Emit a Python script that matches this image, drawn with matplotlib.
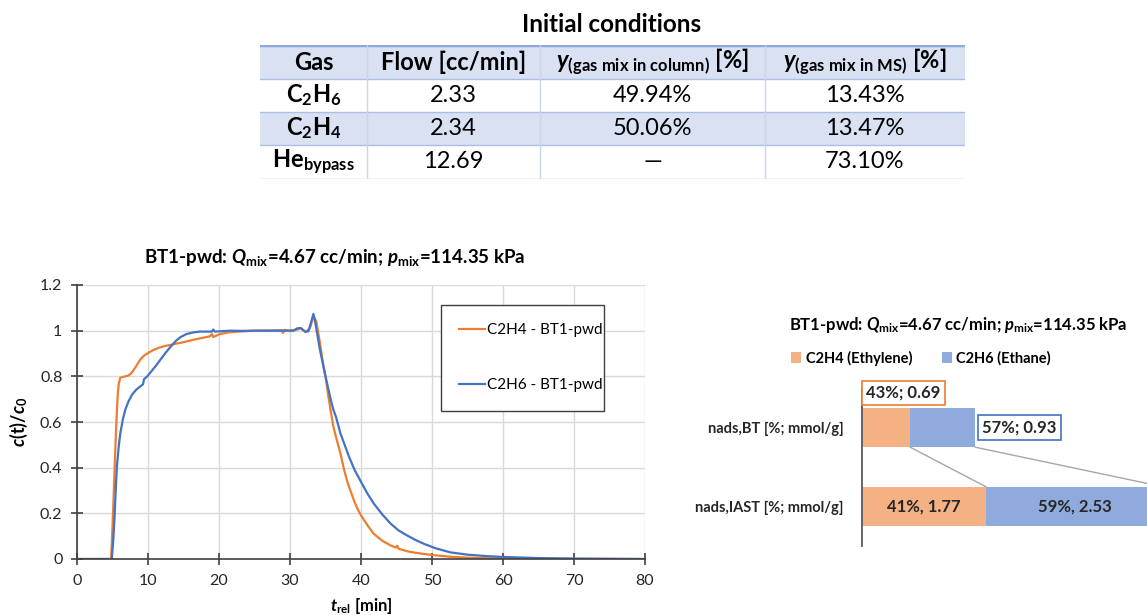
import matplotlib
matplotlib.use('Agg')
import matplotlib.pyplot as plt
import numpy as np

plt.rcParams['font.family'] = ['Lato', 'DejaVu Sans']
plt.rcParams['mathtext.fontset'] = 'custom'
plt.rcParams['mathtext.rm'] = 'Lato'
plt.rcParams['mathtext.it'] = 'Lato:italic'
plt.rcParams['mathtext.bf'] = 'Lato:bold'
plt.rcParams['mathtext.bfit'] = 'Lato:italic:bold'

# ---- table data ----
table_title = 'Initial conditions'
table_header = ['Gas', 'Flow [cc/min]',
                r'$\mathbfit{y}_{\mathbf{(gas\ mix\ in\ column)}}$ [%]',
                r'$\mathbfit{y}_{\mathbf{(gas\ mix\ in\ MS)}}$ [%]']
gases = [r'$\mathbf{C_2H_6}$', r'$\mathbf{C_2H_4}$', r'$\mathbf{He_{bypass}}$']
flows = ['2.33', '2.34', '12.69']
y_column = ['49.94%', '50.06%', '\u2014']
y_ms = ['13.43%', '13.47%', '73.10%']

# ---- breakthrough curves ----
t_c2h4 = [0, 4.8, 4.95, 5.14, 5.3, 5.48, 5.62, 5.76, 5.9, 6.1, 6.8, 7.2, 7.5, 7.85, 8.2,
          8.6, 8.95, 9.5, 10.1, 10.8, 11.6, 12.4, 13.2, 14.9, 16.8, 18.7, 19.0, 19.2,
          20.1, 21.5, 23.3, 25.0, 27.0, 28.8, 29.0, 29.2, 30.0, 31.0, 31.5, 32.2, 32.8,
          33.3, 33.7, 34.2, 34.7, 35.1, 35.4, 35.75, 36.1, 36.6, 37.1, 37.55, 38.0, 38.5,
          39.0, 39.5, 40.0, 40.9, 41.8, 43.0, 44.2, 44.9, 45.1, 45.3, 46.5, 47.7, 48.9,
          50.5, 52.6, 55.0, 58.0, 62.0, 70.0, 80.0]
c2h4 = [0, 0, 0.1, 0.257, 0.4, 0.55, 0.65, 0.73, 0.77, 0.794, 0.80, 0.803, 0.809, 0.822,
        0.838, 0.858, 0.875, 0.892, 0.904, 0.916, 0.926, 0.933, 0.938, 0.949, 0.963, 0.975,
        0.985, 0.972, 0.985, 0.993, 0.997, 1.0, 1.0, 1.002, 0.99, 1.003, 1.0, 1.005, 1.01,
        0.995, 1.01, 1.065, 1.04, 0.95, 0.846, 0.78, 0.713, 0.645, 0.581, 0.52, 0.463,
        0.40, 0.346, 0.30, 0.257, 0.22, 0.191, 0.148, 0.110, 0.08, 0.059, 0.05, 0.058,
        0.045, 0.034, 0.027, 0.022, 0.016, 0.010, 0.006, 0.003, 0.001, 0.0, 0.0]

t_c2h6 = [0, 4.9, 5.1, 5.29, 5.45, 5.62, 5.85, 6.1, 6.45, 6.8, 7.25, 7.76, 8.3, 8.95, 9.3,
          9.43, 9.9, 10.5, 11.1, 11.8, 12.5, 13.2, 13.95, 14.6, 15.4, 16.3, 17.3, 19.0,
          19.2, 19.4, 21.6, 23.0, 25.7, 28.0, 29.9, 30.5, 31.0, 31.5, 32.2, 32.6, 33.0,
          33.3, 33.6, 34.2, 34.7, 35.2, 35.8, 36.1, 36.5, 37.1, 37.7, 38.3, 39.1, 40.0,
          40.9, 41.8, 43.0, 44.2, 45.3, 46.5, 47.7, 48.9, 50.5, 52.6, 55.0, 57.5, 60.0,
          65.0, 70.0, 80.0]
c2h6 = [0, 0, 0.08, 0.184, 0.30, 0.404, 0.485, 0.551, 0.61, 0.654, 0.69, 0.72, 0.74, 0.757,
        0.765, 0.787, 0.80, 0.823, 0.846, 0.875, 0.904, 0.93, 0.956, 0.972, 0.985, 0.992,
        0.996, 0.996, 1.005, 0.996, 1.0, 0.999, 1.0, 1.0, 1.0, 1.0, 1.01, 1.012, 0.994,
        0.998, 1.04, 1.073, 1.03, 0.919, 0.845, 0.772, 0.69, 0.655, 0.62, 0.55, 0.50,
        0.449, 0.39, 0.338, 0.287, 0.243, 0.195, 0.154, 0.125, 0.103, 0.083, 0.066, 0.047,
        0.029, 0.019, 0.013, 0.009, 0.004, 0.002, 0.0]

x_ticks = [0, 10, 20, 30, 40, 50, 60, 70, 80]
y_ticks = [0, 0.2, 0.4, 0.6, 0.8, 1.0, 1.2]
y_ticklabels = ['0', '0.2', '0.4', '0.6', '0.8', '1', '1.2']

# ---- adsorbed amounts ----
bar_cats = ['nads,IAST [%; mmol/g]', 'nads,BT [%; mmol/g]']
ads_c2h4 = [1.77, 0.69]
ads_c2h6 = [2.53, 0.93]
lab_c2h4 = ['41%, 1.77', '43%; 0.69']
lab_c2h6 = ['59%, 2.53', '57%; 0.93']

orange = '#ED7D31'
blue = '#4472C4'
bar_orange = '#F4B183'
bar_blue = '#8FAADC'
txt = '#262626'

W, H = 1147, 615
fig = plt.figure(figsize=(W / 100, H / 100), dpi=100)

def box(l, t, r, b):
    return [l / W, 1 - b / H, (r - l) / W, (b - t) / H]

# ================= table =================
tax = fig.add_axes(box(260, 45, 965, 179))
col_edges = [0, 107, 280, 505, 705]
row_edges = [0, 34, 67, 100, 134]
tax.set_xlim(0, 705)
tax.set_ylim(134, 0)
tax.axis('off')
for i in (0, 2):
    tax.axhspan(row_edges[i], row_edges[i + 1], color='#D9E1F2', lw=0)
for y in row_edges[1:]:
    tax.axhline(y, color='#A9BFE3', lw=1)
tax.axhline(0, color='#8EA9DB', lw=2.5)
tax.vlines(col_edges[1:-1], 0, 134, color='#C9D6EE', lw=1)
cx = [(col_edges[i] + col_edges[i + 1]) / 2 for i in range(4)]
cy = [(row_edges[i] + row_edges[i + 1]) / 2 for i in range(4)]
for j, h in enumerate(table_header):
    tax.text(cx[j], cy[0], h, ha='center', va='center', fontsize=17, fontweight='bold', color='black')
rows = list(zip(gases, flows, y_column, y_ms))
for i, row in enumerate(rows):
    for j, v in enumerate(row):
        tax.text(cx[j], cy[i + 1], v, ha='center', va='center', fontsize=17,
                 fontweight='bold' if j == 0 else 'normal', color='black')
fig.text(612 / W, 1 - 25 / H, table_title, ha='center', va='center', fontsize=17.5,
         fontweight='bold', color='black')

# ================= breakthrough curves =================
ax = fig.add_axes(box(77, 285, 645, 559))
ax.plot(t_c2h4, c2h4, color=orange, lw=1.6, label='C2H4 - BT1-pwd')
ax.plot(t_c2h6, c2h6, color=blue, lw=1.6, label='C2H6 - BT1-pwd')
ax.set_xlim(0, 80)
ax.set_ylim(0, 1.2)
ax.set_xticks(x_ticks)
ax.set_yticks(y_ticks)
ax.set_yticklabels(y_ticklabels)
ax.grid(True, color='#D9D9D9', lw=1)
ax.set_axisbelow(True)
for s in ('top', 'right'):
    ax.spines[s].set_visible(False)
for s in ('left', 'bottom'):
    ax.spines[s].set_color('#404040')
    ax.spines[s].set_linewidth(1.2)
ax.tick_params(direction='inout', length=9, width=1.2, color='#404040',
               labelsize=11.5, labelcolor=txt, pad=6)
ax.set_xlabel(r'$\mathbfit{t}_{\mathbf{rel}}$ [min]', fontsize=12, fontweight='bold', labelpad=6)
ax.set_ylabel(r'$\mathbfit{c}$(t)/$\mathbfit{c}_{\mathbf{0}}$', fontsize=13, fontweight='bold', labelpad=7)
fig.text(335 / W, 1 - 257 / H,
         r'BT1-pwd: $\mathbfit{Q}_{\mathbf{mix}}$=4.67 cc/min; $\mathbfit{p}_{\mathbf{mix}}$=114.35 kPa',
         ha='center', va='center', fontsize=13.5, fontweight='bold', color='black')
ax.legend(loc='upper left', bbox_to_anchor=(0.627, 0.558, 0.315, 0.398), mode='expand',
          fontsize=11, frameon=True, fancybox=False, edgecolor='#404040', framealpha=1,
          borderpad=1.2, labelspacing=2.7, handlelength=1.7, handletextpad=0.15)

# ================= adsorbed amounts bars =================
bax = fig.add_axes(box(862, 388, 1212, 546))
ypos = np.arange(len(bar_cats))
b1 = bax.barh(ypos, ads_c2h4, height=0.5, color=bar_orange, label='C2H4 (Ethylene)')
b2 = bax.barh(ypos, ads_c2h6, left=ads_c2h4, height=0.5, color=bar_blue, label='C2H6 (Ethane)')
bax.set_xlim(0, 5)
bax.set_ylim(-0.5, 1.5)
bax.set_yticks(ypos)
bax.set_yticklabels(bar_cats, fontsize=10.5, fontweight='bold', color=txt)
bax.tick_params(axis='y', length=0, pad=13)
bax.set_xticks([])
for s in ('top', 'right', 'bottom'):
    bax.spines[s].set_visible(False)
bax.spines['left'].set_color('#595959')
bax.spines['left'].set_linewidth(1.3)
tot = [a + b for a, b in zip(ads_c2h4, ads_c2h6)]
# series lines between the stacked bars
bax.plot([ads_c2h4[1], ads_c2h4[0]], [1 - 0.25, 0 + 0.25], color='#A6A6A6', lw=1)
bax.plot([tot[1], tot[0]], [1 - 0.25, 0 + 0.25], color='#A6A6A6', lw=1)
# labels
bax.text(ads_c2h4[0] / 2, 0, lab_c2h4[0], ha='center', va='center', fontsize=12,
         fontweight='bold', color=txt)
bax.text(ads_c2h4[0] + ads_c2h6[0] / 2, 0, lab_c2h6[0], ha='center', va='center',
         fontsize=12, fontweight='bold', color=txt)
bax.annotate(lab_c2h4[1], xy=(0, 1.25), xytext=(3, 5), textcoords='offset points',
             ha='left', va='bottom', fontsize=12, fontweight='bold', color=txt,
             bbox=dict(boxstyle='square,pad=0.25', fc='white', ec=orange, lw=1.2))
bax.annotate(lab_c2h6[1], xy=(tot[1], 1), xytext=(5, 0), textcoords='offset points',
             ha='left', va='center', fontsize=12, fontweight='bold', color=txt,
             bbox=dict(boxstyle='square,pad=0.25', fc='white', ec=blue, lw=1.2))
fig.legend(handles=[b1, b2], loc='center', bbox_to_anchor=(921 / W, 1 - 358 / H), ncol=2,
           frameon=False, handlelength=0.7, handleheight=0.7, handletextpad=0.3,
           columnspacing=2.0, prop={'size': 10.5, 'weight': 'bold'})
fig.text(958 / W, 1 - 325 / H,
         r'BT1-pwd: $\mathbfit{Q}_{\mathbf{mix}}$=4.67 cc/min; $\mathbfit{p}_{\mathbf{mix}}$=114.35 kPa',
         ha='center', va='center', fontsize=12, fontweight='bold', color='black')

fig.savefig('out.png', dpi=100)
